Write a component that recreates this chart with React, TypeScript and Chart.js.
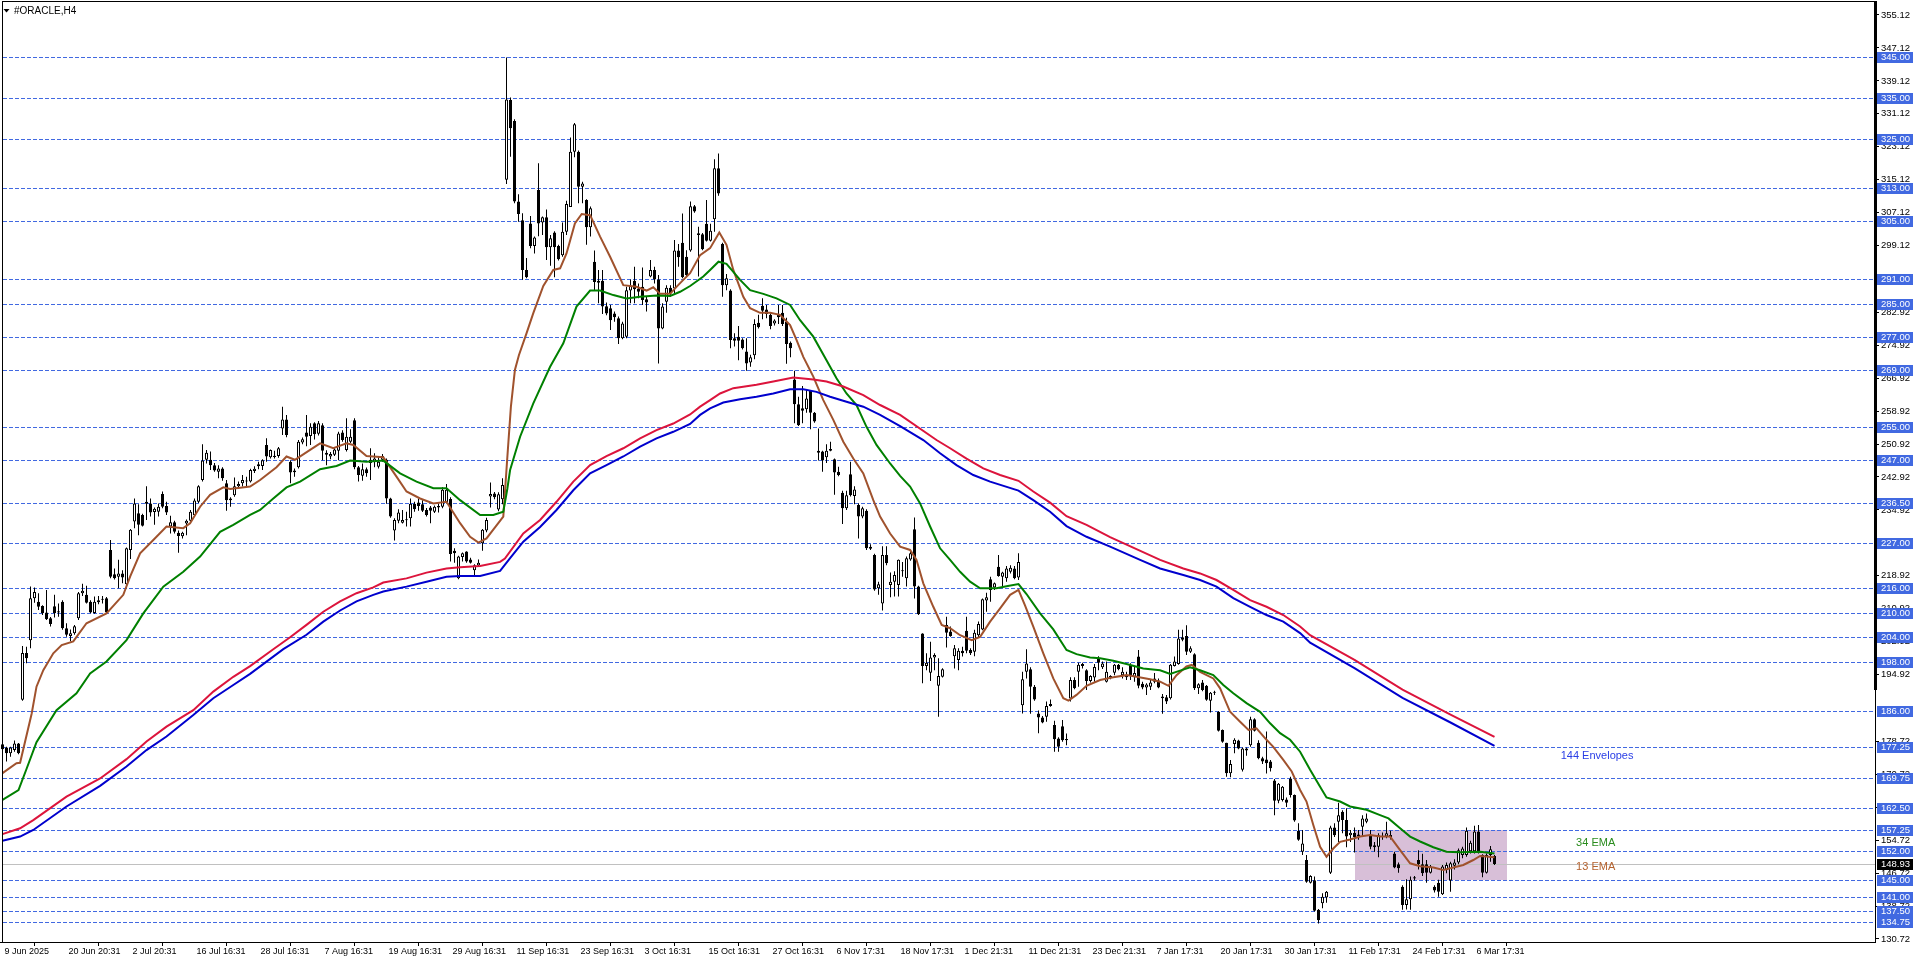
import React, { useEffect, useRef } from 'react';
import { Chart, registerables } from 'chart.js';

Chart.register(...registerables);

// ---------- DATA (H4 candles, bar index 0 = 9 Jun 2025) ----------
const opens = [
  178.0,177.2,175.8,176.6,178.2,188.8,200.2,203.3,213.5,212.6,
  211.6,210.0,208.6,211.5,210.3,212.6,206.2,204.3,205.0,208.6,
  214.7,214.3,212.6,209.9,212.5,213.1,213.5,225.2,219.3,218.7,
  219.5,216.9,225.2,232.1,234.1,233.7,236.9,236.5,234.4,234.5,
  238.8,235.9,230.9,231.9,229.4,228.5,231.6,232.3,233.7,236.9,
  242.2,247.1,247.1,245.8,244.2,245.0,241.4,237.7,238.5,240.7,
  241.4,241.8,241.8,244.4,245.5,245.6,250.7,247.7,247.8,248.0,
  254.7,256.9,246.6,244.1,245.3,251.3,253.7,252.9,256.0,253.4,
  255.5,248.3,247.9,248.3,249.3,253.7,249.5,251.5,256.7,245.3,
  243.2,244.8,247.1,246.6,245.4,247.1,247.1,237.7,229.9,232.3,
  231.8,232.4,232.9,236.4,236.7,236.3,234.9,235.5,234.5,235.5,
  235.7,236.7,237.6,225.0,218.3,223.5,224.8,222.9,220.3,221.4,
  226.8,229.9,238.2,238.9,235.0,237.5,315.1,334.5,329.4,309.8,
  305.3,293.2,304.5,299.0,312.6,304.7,306.0,298.7,302.3,299.0,
  296.8,302.5,308.5,321.9,321.9,313.4,310.2,303.6,295.2,290.6,
  290.6,284.4,283.9,282.6,281.5,276.6,277.0,288.2,290.6,288.7,
  289.1,286.1,291.6,293.2,290.9,279.0,285.5,288.9,288.7,297.9,
  299.8,296.4,297.9,308.7,302.1,301.9,304.4,300.3,305.5,317.9,
  299.5,289.5,288.2,276.6,277.0,276.3,273.4,270.7,272.5,280.4,
  284.5,283.6,282.3,280.2,282.5,282.8,280.6,275.5,266.6,260.6,
  259.6,259.4,263.9,258.5,249.3,249.1,247.7,249.7,247.2,244.2,
  239.1,235.3,243.6,238.3,236.1,233.3,234.7,226.0,224.0,215.9,
  212.2,224.0,216.7,217.5,216.7,220.2,218.3,222.9,230.2,216.3,
  204.9,197.0,195.4,199.1,192.2,194.4,207.0,205.4,199.4,198.5,
  200.7,205.6,200.9,200.5,204.5,205.9,212.9,218.1,216.1,221.1,
  218.7,218.3,219.9,220.7,218.5,187.5,195.6,196.2,192.0,185.5,
  184.5,184.7,187.8,182.7,179.4,182.4,179.3,189.1,193.6,195.6,
  197.0,196.0,193.4,194.2,198.9,196.7,193.2,194.6,195.4,197.3,
  194.8,194.8,197.3,194.3,199.3,192.7,191.8,192.0,194.0,193.5,
  189.6,189.4,189.2,197.0,197.5,204.0,204.3,200.5,199.9,191.6,
  193.0,192.2,188.6,190.5,185.9,181.5,178.4,171.0,178.1,178.9,
  171.8,177.0,177.8,184.1,178.4,174.6,174.3,173.8,169.2,164.3,
  164.5,164.6,169.7,165.7,157.0,151.9,149.9,144.4,145.0,137.8,
  139.4,140.8,146.8,157.8,159.2,161.6,159.6,155.9,156.5,155.6,
  158.0,159.2,155.9,153.0,153.1,155.8,155.6,156.0,151.5,148.9,
  143.4,139.0,140.4,145.4,149.9,148.9,148.9,146.8,143.4,144.4,
  141.6,147.5,144.9,148.5,149.3,151.1,151.1,152.0,152.0,156.8,
  151.1,146.8,151.1,150.9,
];

const highs = [
  178.6,177.4,177.4,178.9,178.3,201.9,201.7,216.3,216.1,214.7,
  211.8,215.5,208.9,214.3,212.2,213.0,207.4,205.9,207.0,215.0,
  217.0,216.5,213.0,213.9,214.0,214.0,213.8,227.6,220.7,222.8,
  220.3,225.8,230.3,237.7,236.3,234.0,240.7,237.7,235.5,236.5,
  239.4,236.9,233.5,232.3,229.9,229.6,232.6,234.9,237.7,240.9,
  250.9,249.5,249.1,246.3,245.8,245.3,242.2,238.0,242.8,241.8,
  243.4,243.0,244.9,245.5,246.6,247.2,252.3,249.6,249.3,250.2,
  260.0,258.0,247.0,245.0,251.9,252.5,258.0,256.0,256.2,256.5,
  256.0,249.4,249.0,249.9,253.9,254.3,257.2,254.5,257.2,245.6,
  246.2,245.2,249.9,248.7,247.7,248.5,247.4,237.9,232.9,235.1,
  234.9,234.5,237.7,236.9,237.7,237.3,235.4,235.9,236.0,236.4,
  240.4,241.2,238.0,225.6,223.8,224.6,224.9,223.3,221.7,222.9,
  230.3,233.0,241.6,239.3,239.2,242.6,344.8,335.1,329.8,311.6,
  307.0,296.1,306.3,301.3,319.1,306.2,307.9,301.7,302.6,299.3,
  304.7,310.0,325.4,328.9,322.2,314.6,310.4,308.6,297.9,293.2,
  293.2,285.3,284.7,283.1,281.9,280.6,289.1,290.9,294.0,289.9,
  293.8,286.7,295.6,294.0,292.0,285.1,289.5,289.5,300.5,299.5,
  306.9,298.0,309.8,309.0,303.7,302.2,310.2,304.4,320.1,321.5,
  299.8,292.2,288.5,277.8,279.6,276.6,276.6,272.6,281.2,282.3,
  286.3,284.7,282.6,281.2,284.7,284.7,281.6,275.8,268.7,262.4,
  265.0,264.2,264.0,258.7,254.7,249.3,250.9,251.5,247.4,245.4,
  239.6,239.6,246.6,240.7,236.5,235.7,235.1,226.6,224.3,217.5,
  226.1,226.1,219.7,220.0,222.9,222.3,223.6,225.2,233.1,216.5,
  205.0,200.1,202.9,200.1,198.9,196.5,209.0,206.6,202.1,201.3,
  201.7,209.0,201.3,205.8,207.8,213.4,214.8,218.7,217.3,224.0,
  219.9,221.3,221.5,221.3,224.4,195.6,201.1,196.7,192.4,186.2,
  184.9,188.4,188.9,183.7,179.7,183.9,180.6,194.3,194.3,197.8,
  197.8,196.2,194.8,197.5,199.4,198.1,198.1,194.8,197.5,197.5,
  196.7,195.6,197.7,196.9,200.9,193.2,192.8,193.6,195.3,194.0,
  190.2,190.0,197.5,199.3,205.8,205.8,206.9,201.8,200.1,192.8,
  193.6,192.4,190.7,191.0,186.0,181.6,178.4,174.2,179.5,179.1,
  177.2,177.2,184.7,184.3,179.0,175.0,181.1,174.2,169.6,168.6,
  167.9,165.1,170.1,165.8,158.8,157.2,151.1,146.2,145.9,138.0,
  141.8,142.4,158.2,158.8,163.8,162.0,162.5,157.2,157.8,157.2,
  160.8,161.2,157.2,154.3,156.4,156.6,159.2,157.0,151.9,149.3,
  143.8,145.2,145.9,146.0,152.3,151.4,149.9,148.7,143.8,145.1,
  148.7,149.3,149.5,150.1,152.7,153.1,157.8,154.6,158.2,158.4,
  151.3,151.5,153.3,151.1,
];

const lows = [
  176.5,173.8,175.0,176.2,175.6,188.6,197.7,201.3,212.4,210.6,
  209.4,208.2,206.6,208.8,209.0,205.8,204.1,203.0,204.6,208.2,
  214.0,212.2,209.8,209.7,212.0,212.2,209.8,218.3,218.0,215.9,
  217.1,215.9,223.0,230.5,228.8,230.9,232.5,233.3,231.3,233.3,
  235.3,233.7,229.2,229.2,224.5,228.0,228.8,232.1,233.7,236.6,
  241.8,246.2,244.6,244.2,242.6,242.0,234.7,235.7,238.1,240.2,
  240.6,240.6,241.6,243.9,244.8,244.6,246.6,247.4,247.4,247.6,
  253.1,252.6,241.4,243.0,245.0,250.9,250.4,250.7,252.0,253.0,
  247.0,245.8,247.2,248.0,247.0,251.5,249.1,251.2,244.8,241.8,
  242.0,243.0,242.2,245.3,245.0,246.6,236.4,233.0,227.5,231.7,
  231.6,230.9,230.9,234.5,234.7,234.4,233.3,231.7,234.2,234.3,
  235.3,236.5,222.4,222.1,218.1,222.4,222.1,221.9,219.1,221.1,
  225.0,229.5,235.5,237.5,234.6,236.3,314.1,320.7,309.4,304.9,
  290.8,291.2,298.5,297.2,301.4,301.7,295.6,294.2,291.4,295.5,
  296.4,301.7,308.5,320.6,309.4,309.4,299.3,301.3,288.3,285.1,
  282.5,282.2,278.6,280.6,275.2,276.4,276.6,285.1,285.1,286.3,
  284.7,283.1,291.4,289.9,270.5,278.8,282.8,286.7,287.5,294.0,
  291.2,291.4,297.6,307.1,291.6,298.0,300.1,300.1,302.5,311.2,
  286.7,288.3,274.2,274.6,271.3,273.9,268.7,269.7,271.5,279.0,
  281.2,281.5,278.8,279.7,280.1,279.6,270.4,272.0,256.0,255.3,
  256.0,258.5,254.5,256.1,246.9,244.2,246.3,249.2,238.6,243.1,
  231.5,234.9,238.2,236.3,228.0,232.9,225.2,225.2,215.3,214.3,
  210.5,221.5,213.7,213.9,213.9,218.7,216.3,222.6,213.4,209.4,
  192.8,196.0,193.4,196.0,184.7,194.2,201.5,204.1,196.4,196.0,
  199.3,200.1,199.7,199.4,204.0,205.7,210.2,212.6,215.5,218.7,
  216.3,217.5,219.5,218.1,217.9,185.5,194.0,185.4,188.6,180.7,
  183.1,183.5,187.1,176.2,176.2,178.6,177.8,188.4,191.4,192.0,
  196.4,191.2,193.0,193.2,196.0,196.3,193.0,193.8,194.8,196.0,
  194.0,193.6,193.6,193.2,191.6,191.4,190.0,191.2,192.8,191.6,
  185.4,187.8,188.9,196.9,197.3,203.0,199.7,200.2,191.2,190.2,
  190.9,188.6,185.7,190.0,181.1,178.4,170.1,170.0,175.8,176.8,
  171.4,175.2,177.4,181.1,174.4,173.2,170.9,171.4,160.8,163.7,
  164.1,162.8,165.1,159.2,154.6,151.1,144.4,144.2,137.4,134.5,
  138.2,139.5,146.5,155.5,154.3,156.4,153.0,154.3,151.7,154.8,
  155.7,158.8,152.5,151.9,150.6,154.8,155.2,154.9,147.9,146.8,
  137.8,137.9,137.8,144.9,147.6,146.0,144.4,146.6,142.0,141.0,
  141.4,146.7,142.2,147.6,148.9,150.3,150.7,151.5,151.5,151.5,
  145.7,146.6,149.5,148.7,
];

const closes = [
  176.8,175.8,177.2,178.2,175.8,200.2,198.9,213.5,215.0,211.4,
  209.8,208.4,207.2,209.8,210.0,206.2,204.6,205.0,206.7,214.7,
  215.3,212.4,210.0,212.6,213.0,213.3,210.0,218.7,218.3,219.5,
  218.5,225.6,230.1,236.5,231.3,231.1,236.4,234.3,235.2,235.7,
  235.7,234.3,231.9,229.6,228.6,229.4,232.3,234.5,237.2,240.7,
  246.9,248.8,245.8,244.5,245.0,242.6,237.3,237.3,240.7,241.2,
  242.2,241.9,244.6,244.9,246.0,247.0,247.9,249.5,248.1,249.9,
  256.9,253.1,244.0,244.5,251.5,252.1,252.7,255.1,253.3,256.0,
  249.3,248.8,248.5,249.6,253.5,251.9,252.7,252.7,245.3,243.4,
  244.8,243.8,246.3,247.4,246.6,248.0,237.7,233.3,232.5,234.3,
  232.5,232.6,236.4,235.1,235.9,234.7,233.7,234.7,235.7,235.9,
  239.8,239.8,224.2,224.4,223.6,224.4,222.4,222.1,221.5,222.1,
  230.1,232.5,238.8,238.0,238.7,241.0,334.6,327.6,309.8,306.8,
  293.2,291.4,299.0,301.1,304.5,306.0,298.7,300.9,298.7,295.8,
  302.5,309.2,321.9,328.6,313.4,314.2,303.6,308.2,290.3,290.1,
  284.3,282.6,281.0,281.7,276.6,280.2,288.3,289.3,288.5,287.9,
  285.9,285.3,293.2,290.9,279.0,284.3,288.9,287.5,297.9,296.3,
  291.4,291.9,308.7,307.4,301.7,298.2,300.3,302.7,317.9,311.8,
  289.5,291.2,276.2,276.0,276.0,274.2,270.5,272.0,280.1,279.3,
  283.3,282.5,279.6,280.9,281.7,280.1,275.2,274.2,260.6,255.5,
  259.0,262.0,258.5,256.4,248.8,246.9,249.3,249.3,244.0,243.4,
  235.3,238.5,238.5,239.9,233.3,235.3,225.6,225.5,215.6,216.9,
  224.0,222.0,217.5,219.1,222.8,220.0,223.2,224.4,216.3,209.6,
  197.0,197.8,199.1,199.7,194.6,196.2,205.1,204.3,201.3,200.7,
  200.1,200.7,200.1,205.1,207.2,213.2,213.7,215.5,217.1,218.9,
  219.7,220.7,220.9,218.3,222.3,193.8,197.6,192.0,188.9,184.5,
  183.3,187.3,187.3,179.2,177.4,179.0,179.0,193.6,191.6,197.3,
  197.5,193.4,194.6,196.8,197.8,197.6,195.6,194.3,197.3,196.2,
  195.6,194.3,194.6,195.3,192.2,191.8,192.5,193.0,193.2,191.8,
  189.2,188.4,197.3,198.1,203.7,203.4,200.5,201.3,191.6,192.6,
  191.2,188.8,190.5,190.7,181.3,178.6,171.0,173.2,179.1,177.0,
  177.0,176.5,184.1,181.3,174.6,173.8,173.4,172.2,164.3,168.4,
  167.7,163.8,165.7,159.5,154.8,153.9,144.6,146.0,137.6,135.3,
  141.0,142.2,157.8,155.9,160.8,159.6,155.6,156.5,155.5,156.1,
  160.0,160.0,153.1,153.5,155.9,155.5,156.4,155.4,148.1,147.9,
  139.0,140.4,145.1,145.7,148.9,146.7,146.8,148.3,142.5,142.2,
  148.3,148.7,149.1,149.3,152.3,152.7,157.0,154.1,156.8,152.0,
  146.8,151.1,152.5,148.93,
];

// time-axis labels, one every 16 bars
const timeLabels = [
  '9 Jun 2025', '20 Jun 20:31', '2 Jul 20:31', '16 Jul 16:31', '28 Jul 16:31',
  '7 Aug 16:31', '19 Aug 16:31', '29 Aug 16:31', '11 Sep 16:31', '23 Sep 16:31',
  '3 Oct 16:31', '15 Oct 16:31', '27 Oct 16:31', '6 Nov 17:31', '18 Nov 17:31',
  '1 Dec 21:31', '11 Dec 21:31', '23 Dec 21:31', '7 Jan 17:31', '20 Jan 17:31',
  '30 Jan 17:31', '11 Feb 17:31', '24 Feb 17:31', '6 Mar 17:31',
];
const barsPerLabel = 16;

const priceTicks = [
  355.12, 347.12, 339.12, 331.12, 323.12, 315.12, 307.12, 299.12, 282.92, 274.92,
  266.92, 258.92, 250.92, 242.92, 234.92, 226.92, 218.92, 210.92, 202.92, 194.92,
  178.72, 170.72, 162.72, 154.72, 146.72, 138.72, 130.72,
];

// horizontal line objects (price levels)
const levelLines = [
  345.0, 335.0, 325.0, 313.0, 305.0, 291.0, 285.0, 277.0, 269.0, 255.0, 247.0,
  236.5, 227.0, 216.0, 210.0, 204.0, 198.0, 186.0, 177.25, 169.75, 162.5, 157.25,
  152.0, 145.0, 141.0, 137.5, 134.75,
];
const lastPrice = 148.93;

// indicator readings: [bar index, value]
const ema13 = [
  [0,171.0],[3.5,173.4],[4.4,173.5],[7.3,185.5],[8.5,192.0],[10.2,196.0],[12.7,200.1],[14.8,202.1],
  [17.7,203.0],[21.0,207.4],[26.0,209.8],[30.2,214.3],[31.9,218.7],[34.4,224.4],[37.7,227.6],[41.0,230.9],
  [45.2,230.5],[46.9,231.7],[49.4,235.7],[51.9,238.6],[55.2,240.4],[56.9,240.0],[61.9,240.6],[64.4,242.2],
  [68.5,245.3],[71.0,247.9],[73.1,247.1],[76.9,249.5],[79.4,251.1],[82.7,249.9],[86.0,251.1],[87.7,250.7],
  [91.0,248.0],[95.2,247.7],[98.5,243.0],[101.0,239.4],[104.4,237.7],[107.7,236.5],[111.0,236.9],[114.4,231.7],
  [116.9,228.4],[119.0,227.0],[121.0,228.0],[125.2,233.3],[126.1,246.2],[127.1,260.0],[128.1,268.9],[129.1,272.5],
  [131.0,277.8],[132.7,282.7],[135.2,289.3],[137.7,293.2],[139.4,293.6],[141.0,297.2],[143.1,304.5],[144.8,306.8],
  [146.9,306.5],[149.4,301.3],[151.9,296.4],[155.2,289.5],[158.5,289.1],[161.0,288.2],[162.7,289.0],[164.4,287.4],
  [166.9,287.4],[168.5,289.1],[170.2,290.8],[171.9,292.4],[174.4,296.8],[176.9,298.5],[179.2,302.3],[181.0,299.3],
  [182.7,293.2],[185.2,286.7],[186.9,283.9],[189.4,282.8],[191.9,282.8],[194.4,282.3],[196.9,279.8],[198.5,276.2],
  [200.2,272.1],[202.7,267.3],[205.2,261.6],[207.7,256.8],[210.2,251.5],[212.7,247.4],[215.2,243.8],[217.7,237.3],
  [219.4,233.3],[221.9,229.2],[224.4,226.0],[226.9,225.2],[228.5,222.8],[230.2,217.1],[232.7,211.4],[234.8,207.0],
  [236.9,206.2],[239.4,204.5],[242.3,203.3],[244.4,204.1],[246.9,207.8],[249.4,211.0],[251.9,214.3],[254.0,215.5],
  [255.6,211.8],[257.7,206.6],[260.2,200.1],[262.7,194.0],[265.2,189.2],[266.5,188.6],[268.5,190.0],[271.0,192.2],
  [274.4,193.6],[277.7,194.3],[281.0,194.8],[283.5,194.4],[286.9,193.8],[289.4,193.2],[291.5,192.2],[293.5,194.8],
  [296.0,196.9],[297.3,197.3],[299.4,195.6],[302.7,194.0],[304.4,191.6],[306.9,185.9],[309.4,183.5],[311.5,181.5],
  [313.5,181.9],[316.0,179.1],[317.7,177.4],[320.2,174.2],[322.3,171.4],[324.4,166.9],[326.0,164.1],[327.7,158.4],
  [329.4,153.1],[331.0,150.7],[332.7,152.7],[334.4,154.3],[336.9,154.9],[339.4,155.6],[341.9,156.0],[344.4,155.6],
  [346.9,155.6],[349.4,152.3],[351.9,149.1],[354.4,148.4],[357.7,148.1],[360.2,147.5],[362.7,148.1],[365.2,148.7],
  [367.7,149.9],[369.4,150.9],[373.0,150.6],
];

const ema34 = [
  [0,164.5],[4.0,166.9],[6.0,172.0],[8.5,178.5],[13.5,186.3],[18.5,190.4],[21.9,195.2],[26.0,198.1],
  [31.0,203.3],[35.2,209.8],[40.2,216.3],[45.2,219.9],[49.4,223.6],[54.4,229.6],[57.7,231.3],[61.9,233.7],
  [64.4,234.9],[67.7,237.7],[71.0,240.4],[74.4,241.8],[79.4,244.8],[83.5,245.6],[86.9,246.9],[91.0,246.6],
  [95.2,246.9],[99.4,243.8],[103.5,241.8],[107.7,240.2],[111.0,240.2],[114.4,237.3],[119.4,233.7],[122.7,233.7],
  [125.2,234.5],[126.2,240.0],[126.9,244.6],[129.4,252.7],[132.7,260.8],[136.9,269.7],[140.2,275.4],[143.5,284.3],
  [146.9,288.2],[149.4,288.2],[152.7,287.1],[156.0,286.3],[159.4,286.7],[163.5,287.0],[166.9,286.9],[169.4,287.9],
  [171.9,289.3],[175.2,291.6],[176.9,293.2],[179.0,295.2],[181.0,294.7],[184.4,290.8],[186.9,288.3],[190.2,287.4],
  [193.5,286.3],[196.9,284.7],[199.4,281.0],[202.7,277.0],[206.0,271.3],[208.5,266.9],[211.0,263.2],[213.5,260.4],
  [216.0,255.1],[218.5,250.7],[221.9,246.2],[224.4,243.2],[226.9,240.6],[229.4,236.5],[231.9,230.9],[234.4,225.6],
  [236.9,222.8],[239.4,219.9],[241.9,217.5],[244.4,215.9],[248.5,215.9],[251.0,216.4],[254.0,216.9],[256.0,214.5],
  [259.4,209.8],[262.7,205.9],[266.0,200.9],[268.5,199.9],[271.9,199.1],[274.4,198.9],[277.7,198.3],[281.0,197.5],
  [285.2,196.4],[289.4,196.0],[291.9,195.1],[294.4,195.9],[296.9,196.7],[299.4,196.0],[302.7,194.8],[305.2,192.4],
  [307.7,190.4],[311.0,188.0],[314.4,185.9],[316.9,183.1],[319.4,180.7],[321.9,179.1],[324.4,176.2],[326.9,171.8],
  [329.4,167.7],[331.0,165.1],[334.4,164.1],[336.9,162.9],[341.0,162.1],[344.4,160.8],[346.5,160.0],[349.4,157.6],
  [351.9,155.6],[354.4,154.4],[357.7,153.0],[361.0,151.9],[364.4,151.8],[369.4,151.9],[373.0,151.5],
];

const envUpper = [
  [0,156.2],[4.4,157.6],[7.7,159.6],[16.0,165.3],[24.4,169.7],[31.0,174.4],[36.0,178.7],[41.0,182.3],
  [47.7,186.3],[52.7,190.8],[57.7,194.4],[61.9,197.0],[67.7,201.1],[71.9,204.0],[76.0,207.0],[80.2,210.2],
  [84.4,212.7],[88.5,214.7],[92.7,216.1],[95.2,217.3],[101.0,218.3],[106.0,219.7],[111.0,220.7],[114.4,221.0],
  [119.4,221.3],[124.4,222.3],[125.6,223.1],[130.2,229.2],[134.4,232.5],[138.5,236.9],[142.7,241.8],[146.9,245.8],
  [151.0,248.0],[155.2,249.9],[159.4,252.3],[163.5,254.3],[167.7,255.9],[171.9,258.1],[174.4,260.0],[176.9,261.6],
  [179.4,263.2],[182.7,264.5],[188.5,265.3],[192.7,266.1],[197.7,267.1],[202.7,266.6],[206.0,266.1],[210.2,264.9],
  [215.2,262.8],[219.4,260.4],[224.4,258.0],[233.5,251.9],[236.9,249.9],[241.0,247.4],[245.2,245.0],[249.4,243.4],
  [254.0,242.0],[257.7,239.4],[261.9,236.7],[266.0,233.4],[271.0,231.3],[276.9,228.3],[289.4,222.8],[295.2,220.7],
  [299.4,219.5],[303.5,217.9],[307.7,215.5],[311.9,213.0],[316.0,211.4],[320.2,209.4],[324.4,206.6],[326.9,204.5],
  [338.0,198.5],[350.0,191.3],[362.0,185.2],[373.0,179.8],
];

const envLower = [
  [0,154.6],[4.4,155.6],[7.7,157.2],[16.0,162.9],[24.4,167.9],[31.0,172.6],[36.0,176.6],[41.0,179.9],
  [47.7,185.1],[52.7,189.2],[57.7,192.4],[61.9,195.1],[70.2,201.1],[76.0,204.6],[80.2,207.8],[84.4,210.5],
  [88.5,212.7],[92.7,214.3],[95.2,215.1],[101.0,216.3],[106.0,217.5],[111.0,218.7],[114.4,218.9],[119.4,218.9],
  [124.4,220.1],[126.9,223.2],[130.2,227.2],[134.4,230.8],[138.5,234.9],[142.7,239.7],[146.9,243.8],[151.0,245.8],
  [155.2,247.9],[159.4,250.3],[163.5,252.3],[167.7,253.9],[171.9,255.8],[174.4,258.0],[176.9,259.6],[180.2,261.0],
  [184.4,261.8],[188.5,262.4],[192.7,263.2],[196.9,264.2],[200.2,264.2],[203.5,263.6],[206.9,262.4],[211.0,261.2],
  [215.2,260.0],[219.4,258.0],[224.4,255.3],[230.2,251.9],[234.4,248.7],[238.5,245.8],[242.7,243.4],[246.9,241.8],
  [254.0,239.6],[257.7,237.3],[261.9,234.5],[266.0,231.0],[271.0,228.4],[276.9,226.0],[284.4,222.8],[289.4,220.7],
  [295.2,219.1],[299.4,217.9],[303.5,216.3],[307.7,213.5],[311.9,211.4],[316.0,209.4],[320.2,207.8],[324.4,205.0],
  [326.9,202.7],[338.0,196.5],[350.0,189.3],[362.0,183.3],[373.0,177.6],
];

// rectangle object: bar range and price range
const zoneBars = [338.1, 376.05];
const zonePrices = [157.25, 145.0];

// text objects
const textObjects = [
  { text: '144 Envelopes', bar: 389.55, price: 175.24, color: '#2a3ee6' },
  { text: '34 EMA', bar: 393.4, price: 154.1, color: '#2a8c1e' },
  { text: '13 EMA', bar: 393.4, price: 148.2, color: '#b4622e' },
];

// ---------- COMPONENT ----------
const W = 1916;
const H = 963;
const FONT = '"Liberation Sans", Arial, sans-serif';

const zeroPadding = (s: any) => {
  s.paddingTop = 0;
  s.paddingBottom = 0;
  s.paddingLeft = 0;
  s.paddingRight = 0;
};

export default function App() {
  const ref = useRef<HTMLCanvasElement | null>(null);

  useEffect(() => {
    document.body.style.margin = '0';
    const canvas = ref.current;
    if (!canvas) return;

    const idx = opens.map((_, i) => i);
    const wickData = idx.map((i) => ({ x: i, y: [lows[i], highs[i]] }));
    const bodyData = idx.map((i) => ({ x: i, y: [opens[i], closes[i]] }));
    const pts = (arr: number[][]) => arr.map(([x, y]) => ({ x, y }));

    const decor = {
      id: 'decor',
      beforeDraw(chart: any) {
        const { ctx } = chart;
        ctx.save();
        ctx.fillStyle = '#ffffff';
        ctx.fillRect(0, 0, chart.width, chart.height);
        ctx.restore();
      },
      beforeDatasetsDraw(chart: any) {
        const { ctx, chartArea: a, scales } = chart;
        const xs = scales.x;
        const ys = scales.y;
        ctx.save();
        // rectangle object
        const rx1 = Math.round(xs.getPixelForValue(zoneBars[0]));
        const rx2 = Math.round(xs.getPixelForValue(zoneBars[1]));
        const ry1 = Math.round(ys.getPixelForValue(zonePrices[0]));
        const ry2 = Math.round(ys.getPixelForValue(zonePrices[1]));
        ctx.fillStyle = '#d8bfd8';
        ctx.fillRect(rx1, ry1, rx2 - rx1, ry2 - ry1);
        // dashed horizontal lines
        ctx.strokeStyle = '#4169e1';
        ctx.lineWidth = 1;
        ctx.setLineDash([4, 2]);
        for (const lv of levelLines) {
          const py = Math.round(ys.getPixelForValue(lv)) + 0.5;
          ctx.beginPath();
          ctx.moveTo(a.left + 3, py);
          ctx.lineTo(a.right, py);
          ctx.stroke();
        }
        ctx.setLineDash([]);
        // last price line
        const lp = Math.round(ys.getPixelForValue(lastPrice)) + 0.5;
        ctx.strokeStyle = '#c0c0c0';
        ctx.beginPath();
        ctx.moveTo(a.left + 3, lp);
        ctx.lineTo(a.right, lp);
        ctx.stroke();
        ctx.restore();
      },
      afterDraw(chart: any) {
        const { ctx, chartArea: a, scales } = chart;
        const xs = scales.x;
        const ys = scales.y;
        ctx.save();
        // frame
        ctx.fillStyle = '#000000';
        ctx.fillRect(2, a.top, 1, a.bottom - a.top);
        ctx.fillRect(2, a.top, a.right - 2, 1);
        ctx.fillRect(a.right - 1, a.top, 3, 689);
        // price label boxes
        ctx.font = `9.5px ${FONT}`;
        ctx.textBaseline = 'middle';
        ctx.textAlign = 'left';
        for (const lv of levelLines) {
          const py = Math.round(ys.getPixelForValue(lv));
          ctx.fillStyle = '#4169e1';
          ctx.fillRect(a.right + 2, py - 5, 36, 11);
          ctx.fillStyle = '#ffffff';
          ctx.fillText(lv.toFixed(2), a.right + 6, py + 0.5);
        }
        const lpy = Math.round(ys.getPixelForValue(lastPrice));
        ctx.fillStyle = '#000000';
        ctx.fillRect(a.right + 2, lpy - 5, 36, 11);
        ctx.fillStyle = '#ffffff';
        ctx.fillText(lastPrice.toFixed(2), a.right + 6, lpy + 0.5);
        // title
        ctx.fillStyle = '#000000';
        ctx.beginPath();
        ctx.moveTo(3.5, 9);
        ctx.lineTo(9.5, 9);
        ctx.lineTo(6.5, 12.5);
        ctx.closePath();
        ctx.fill();
        ctx.font = `10px ${FONT}`;
        ctx.fillText('#ORACLE,H4', 14, 11);
        // text objects
        ctx.font = `11px ${FONT}`;
        for (const t of textObjects) {
          ctx.fillStyle = t.color;
          ctx.fillText(t.text, xs.getPixelForValue(t.bar), ys.getPixelForValue(t.price));
        }
        ctx.restore();
      },
    };

    const chart = new Chart(canvas, {
      type: 'bar',
      data: {
        datasets: [
          {
            type: 'line',
            label: '144 Envelopes upper',
            data: pts(envUpper),
            borderColor: '#dc143c',
            borderWidth: 2,
            pointRadius: 0,
            tension: 0,
            order: 0,
          },
          {
            type: 'line',
            label: '144 Envelopes lower',
            data: pts(envLower),
            borderColor: '#0000cd',
            borderWidth: 2,
            pointRadius: 0,
            tension: 0,
            order: 0,
          },
          {
            type: 'line',
            label: '34 EMA',
            data: pts(ema34),
            borderColor: '#008000',
            borderWidth: 2,
            pointRadius: 0,
            tension: 0,
            order: 0,
          },
          {
            type: 'line',
            label: '13 EMA',
            data: pts(ema13),
            borderColor: '#a0522d',
            borderWidth: 2,
            pointRadius: 0,
            tension: 0,
            order: 0,
          },
          {
            type: 'bar',
            label: 'bodies',
            data: bodyData as any,
            backgroundColor: (c: any) =>
              closes[c.dataIndex] >= opens[c.dataIndex] ? '#ffffff' : '#000000',
            borderColor: '#000000',
            borderWidth: 1,
            borderSkipped: false,
            barThickness: 3,
            minBarLength: 1,
            grouped: false,
            inflateAmount: 0,
            order: 1,
          } as any,
          {
            type: 'bar',
            label: 'wicks',
            data: wickData as any,
            backgroundColor: '#000000',
            borderWidth: 0,
            barThickness: 1,
            grouped: false,
            inflateAmount: 0,
            order: 2,
          } as any,
        ],
      },
      options: {
        responsive: false,
        maintainAspectRatio: false,
        animation: false,
        devicePixelRatio: 1,
        events: [],
        layout: { padding: { top: 1, left: 0, right: 0, bottom: 0 } },
        plugins: {
          legend: { display: false },
          tooltip: { enabled: false },
          title: { display: false },
        },
        scales: {
          x: {
            type: 'linear',
            min: -0.625,
            max: 468.125,
            offset: false,
            afterBuildTicks: (s: any) => {
              s.ticks = timeLabels.map((_, k) => ({ value: k * barsPerLabel }));
            },
            afterFit: (s: any) => {
              s.height = 21;
              zeroPadding(s);
            },
            ticks: {
              autoSkip: false,
              maxRotation: 0,
              minRotation: 0,
              align: 'start',
              labelOffset: 2,
              padding: 0,
              color: '#000000',
              font: { family: FONT, size: 9 },
              callback: (_v: any, i: number) => timeLabels[i] ?? '',
            },
            grid: {
              drawOnChartArea: false,
              drawTicks: true,
              tickLength: 4,
              color: '#000000',
            },
            border: { display: true, color: '#000000', width: 1 },
          },
          y: {
            type: 'linear',
            position: 'right',
            min: 129.99,
            max: 358.52,
            afterBuildTicks: (s: any) => {
              s.ticks = priceTicks.map((v) => ({ value: v }));
            },
            afterFit: (s: any) => {
              s.width = 41;
              zeroPadding(s);
            },
            ticks: {
              autoSkip: false,
              padding: 2,
              color: '#000000',
              font: { family: FONT, size: 9.5 },
              callback: (v: any) => Number(v).toFixed(2),
            },
            grid: {
              drawOnChartArea: false,
              drawTicks: true,
              tickLength: 4,
              color: '#000000',
            },
            border: { display: true, color: '#000000', width: 1 },
          },
        },
      } as any,
      plugins: [decor],
    });

    return () => {
      chart.destroy();
    };
  }, []);

  return (
    <div style={{ width: W, height: H, background: '#ffffff' }}>
      <canvas ref={ref} width={W} height={H} style={{ display: 'block' }} />
    </div>
  );
}
